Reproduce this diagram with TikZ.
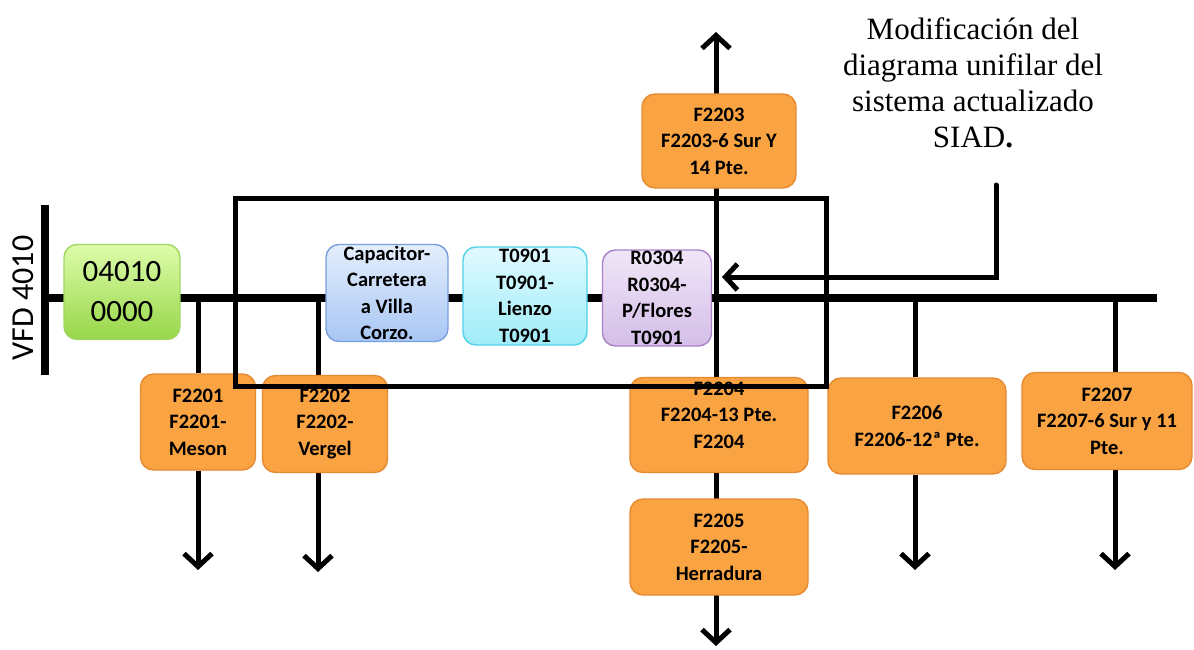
\documentclass[tikz,border=0pt]{standalone}
\usepackage{fontspec}
\setmainfont{Liberation Serif}
\setsansfont{Carlito}
\usetikzlibrary{arrows.meta,backgrounds}
\definecolor{orfill}{RGB}{249,163,66}
\definecolor{ordraw}{RGB}{230,138,50}
\definecolor{grtop}{RGB}{222,252,170}
\definecolor{grbot}{RGB}{150,214,72}
\definecolor{grdraw}{RGB}{160,215,100}
\definecolor{bltop}{RGB}{228,238,252}
\definecolor{blbot}{RGB}{168,198,245}
\definecolor{bldraw}{RGB}{120,160,222}
\definecolor{cytop}{RGB}{224,250,255}
\definecolor{cybot}{RGB}{160,236,248}
\definecolor{cydraw}{RGB}{80,210,232}
\definecolor{putop}{RGB}{240,230,248}
\definecolor{pubot}{RGB}{212,190,232}
\definecolor{pudraw}{RGB}{170,130,200}
\begin{document}
\begin{tikzpicture}[x=1pt,y=-1pt,
  wh/.style 2 args={minimum width=#1pt,minimum height=#2pt},
  unit/.style={draw, line width=1.4pt, rounded corners=13pt, align=center,
    inner sep=0pt, font=\sffamily\bfseries\fontsize{20.5}{26.5}\selectfont},
  feeder/.style={unit, draw=ordraw, fill=orfill},
  bus/.style={line width=8pt},
  feed/.style={line width=5pt},
  leadout/.style={feed, -{Straight Barb[length=13pt,width=28pt]}},
  frame/.style={line width=5pt},
  caption/.style={align=center, font=\rmfamily\fontsize{31}{36}\selectfont}]
\useasboundingbox (0,0) rectangle (1194,650);

% source bar and its label
\coordinate (vfdtop) at (45,205);
\coordinate (vfdbot) at (45,375);
\coordinate (vfdmid) at (45,298);
\coordinate (busend) at (1157,298);
\node[rotate=90, font=\sffamily\fontsize{32}{32}\selectfont] (vfd) at (23,298) {VFD 4010};

% equipment on the bus
\node[unit, draw=grdraw, top color=grtop, bottom color=grbot, wh={116}{95},
  font=\sffamily\fontsize{31}{40}\selectfont] (src) at (122,292) {04010\\0000};
\node[unit, draw=bldraw, top color=bltop, bottom color=blbot, wh={122}{97}] (cap) at (387,293)
  {Capacitor-\\Carretera\\a Villa\\Corzo.};
\node[unit, draw=cydraw, top color=cytop, bottom color=cybot, wh={124}{98}] (t0901) at (525,296)
  {T0901\\T0901-\\Lienzo\\T0901};
\node[unit, draw=pudraw, top color=putop, bottom color=pubot, wh={109}{96}] (r0304) at (657,298)
  {R0304\\R0304-\\P/Flores\\T0901};

% feeders
\node[feeder, wh={154}{94}] (f2203) at (719,141) {F2203\\F2203-6 Sur Y\\14 Pte.};
\node[feeder, wh={115}{96}] (f2201) at (198,422) {F2201\\F2201-\\Meson};
\node[feeder, wh={125}{97}] (f2202) at (325,424) {F2202\\F2202-\\Vergel};
\node[feeder, wh={178}{95}] (f2204) at (719,425) {F2204\\F2204-13 Pte.\\F2204\\[-6.5pt]\mbox{}};
\node[feeder, wh={178}{96}] (f2205) at (719,547) {F2205\\F2205-\\Herradura};
\node[feeder, wh={178}{96}] (f2206) at (917,426) {F2206\\F2206-12ª Pte.};
\node[feeder, wh={170}{97}] (f2207) at (1107,421) {F2207\\F2207-6 Sur y 11\\Pte.};

% junctions on the bus and free arrow ends
\coordinate (j1) at (198,298);
\coordinate (j2) at (318,298);
\coordinate (j6) at (915,298);
\coordinate (j7) at (1115,298);
\coordinate (a1) at (198,570);
\coordinate (a2) at (318,572);
\coordinate (a6) at (915,570);
\coordinate (a7) at (1115,570);
\coordinate (atop) at (716,32);
\coordinate (abot) at (716,646);
\coordinate (k3) at (716,94);
\coordinate (k4) at (716,188);
\coordinate (k5) at (716,378);
\coordinate (k6) at (716,473);
\coordinate (k7) at (716,499);
\coordinate (k8) at (716,595);

\begin{scope}[on background layer]
  \draw[bus] (vfdtop) -- (vfdbot);
  \draw[bus] (vfdmid) -- (busend);
  \draw[feed] (j1) -- (f2201.north);
  \draw[leadout] (f2201.south) -- (a1);
  \draw[feed] (j2) -- (j2 |- f2202.north);
  \draw[leadout] (j2 |- f2202.south) -- (a2);
  \draw[feed] (j6) -- (j6 |- f2206.north);
  \draw[leadout] (j6 |- f2206.south) -- (a6);
  \draw[feed] (j7) -- (j7 |- f2207.north);
  \draw[leadout] (j7 |- f2207.south) -- (a7);
  \draw[leadout] (k3) -- (atop);
  \draw[feed] (k4) -- (k5);
  \draw[feed] (k6) -- (k7);
  \draw[leadout] (k8) -- (abot);
\end{scope}

% highlighted section and its note
\draw[frame] (235,198) rectangle (826,386);
\node[caption] (note) at (973,83) {Modificación del\\diagrama unifilar del\\sistema actualizado\\SIAD\textbf{.}};
\coordinate (ptop) at (996,185);
\coordinate (ptip) at (722,277);
\draw[feed, line cap=round, -{Straight Barb[length=12pt,width=26pt]}] (ptop) |- (ptip);
\end{tikzpicture}
\end{document}
